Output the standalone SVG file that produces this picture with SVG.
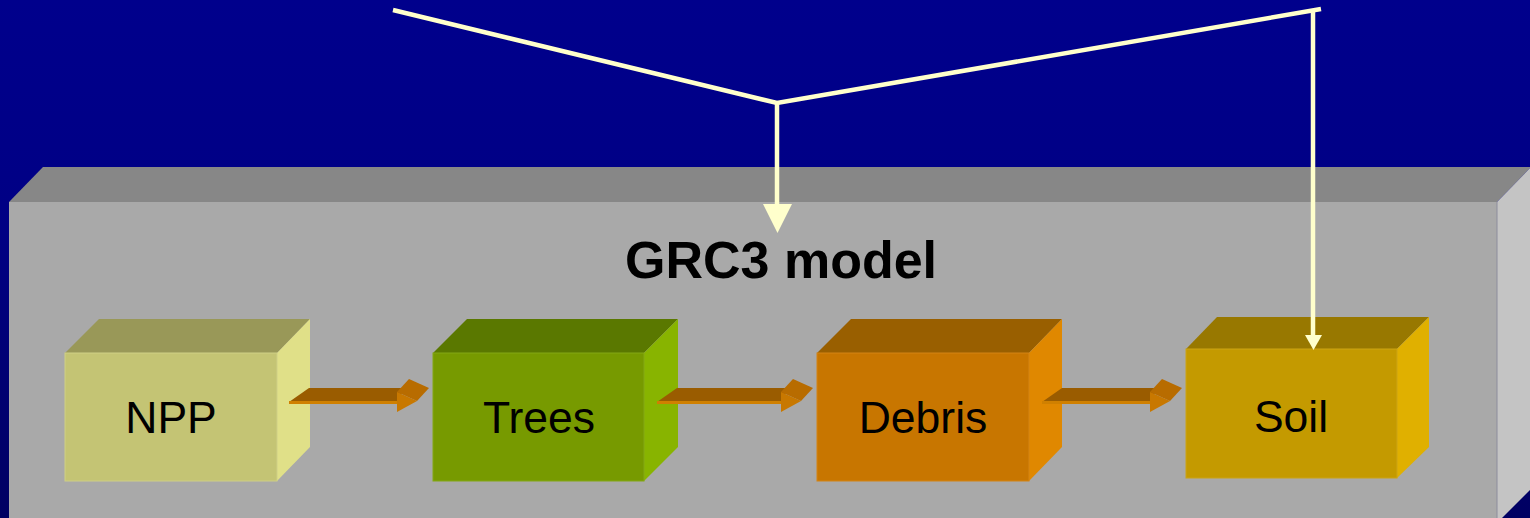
<svg xmlns="http://www.w3.org/2000/svg" width="1530" height="518" viewBox="0 0 1530 518">
  <defs>
    <linearGradient id="bg" x1="0" y1="0" x2="0" y2="1">
      <stop offset="0" stop-color="#00008c"/>
      <stop offset="0.45" stop-color="#000084"/>
      <stop offset="1" stop-color="#000062"/>
    </linearGradient>
    <style>
      .label { font-family: "Liberation Sans", Arial, sans-serif; font-size: 44.5px; fill: #000; text-anchor: middle; }
      .title { font-family: "Liberation Sans", Arial, sans-serif; font-size: 52px; font-weight: bold; fill: #000; text-anchor: middle; }
      .wire { fill: none; stroke: #ffffcc; stroke-width: 4.5; stroke-linejoin: miter; }
      .tip { fill: #ffffcc; }
      .shaft { fill: #9a5c00; }
      .shaftEdge { fill: #d08000; }
      .headTop { fill: #b86c00; }
      .headFront { fill: #c87800; }
    </style>
  </defs>

  <!-- background -->
  <rect width="1530" height="518" fill="url(#bg)"/>

  <!-- model container block -->
  <g id="model">
    <polygon points="9,202 43,167 1531,167 1497,202" fill="#878787"/>
    <polygon points="1497,202 1531,167 1531,489 1497,523" fill="#c4c4c4"/>
    <rect x="9" y="202" width="1488" height="330" fill="#a9a9a9"/>
    <line x1="1497" y1="202" x2="1497" y2="518" stroke="#8c8c9c" stroke-width="1"/>
    <text class="title" x="781" y="278">GRC3 model</text>
  </g>

  <!-- NPP -->
  <g id="npp">
    <polygon points="65,353 99,319 310,319 277,353" fill="#999858"/>
    <polygon points="277,353 310,319 310,447 277,481" fill="#e0e088"/>
    <rect x="65" y="353" width="212" height="128" fill="#c4c474" stroke="#cfcf86" stroke-width="1"/>
    <text class="label" x="171" y="433">NPP</text>
  </g>

  <!-- Trees -->
  <g id="trees">
    <polygon points="433,353 467,319 678,319 644,353" fill="#5a7800"/>
    <polygon points="644,353 678,319 678,447 644,481" fill="#88b400"/>
    <rect x="433" y="353" width="211" height="128" fill="#779a00" stroke="#84a814" stroke-width="1"/>
    <text class="label" x="539" y="433">Trees</text>
  </g>

  <!-- Debris -->
  <g id="debris">
    <polygon points="817,353 851,319 1062,319 1029,353" fill="#995f00"/>
    <polygon points="1029,353 1062,319 1062,447 1029,481" fill="#e08800"/>
    <rect x="817" y="353" width="212" height="128" fill="#c87600" stroke="#d48414" stroke-width="1"/>
    <text class="label" x="923" y="433">Debris</text>
  </g>

  <!-- Soil -->
  <g id="soil">
    <polygon points="1186,349 1217,317 1429,317 1397,349" fill="#987800"/>
    <polygon points="1397,349 1429,317 1429,447 1397,478" fill="#e0b000"/>
    <rect x="1186" y="349" width="211" height="129" fill="#c49a00" stroke="#cca414" stroke-width="1"/>
    <text class="label" x="1291" y="432">Soil</text>
  </g>

  <!-- connectors -->
  <g id="connectors">
    <!-- input lines feeding the model and the soil pool -->
    <polyline class="wire" points="393,10 777,103 1321,9"/>
    <line class="wire" x1="777" y1="103" x2="777" y2="206"/>
    <polygon class="tip" points="763,204 792,204 777.5,233"/>
    <line class="wire" x1="1313" y1="12" x2="1313" y2="337"/>
    <polygon class="tip" points="1305,335 1322,335 1313.5,350"/>

    <!-- flow: NPP to Trees -->
    <g>
      <polygon class="shaft" points="289,402 309,388 404,388 397,402"/>
      <rect class="shaftEdge" x="289" y="401" width="108" height="3"/>
      <polygon class="headTop" points="397,392 409,379 429,388 417,401"/>
      <polygon class="headFront" points="397,392 417,401 397,412"/>
    </g>
    <!-- flow: Trees to Debris -->
    <g>
      <polygon class="shaft" points="657,402 677,388 788,388 781,402"/>
      <rect class="shaftEdge" x="657" y="401" width="124" height="3"/>
      <polygon class="headTop" points="781,392 793,379 813,388 801,401"/>
      <polygon class="headFront" points="781,392 801,401 781,412"/>
    </g>
    <!-- flow: Debris to Soil -->
    <g>
      <polygon class="shaft" points="1042,402 1062,388 1157,388 1150,402"/>
      <rect class="shaftEdge" x="1042" y="401" width="108" height="3"/>
      <polygon class="headTop" points="1150,392 1162,379 1182,388 1170,401"/>
      <polygon class="headFront" points="1150,392 1170,401 1150,412"/>
    </g>
  </g>
</svg>
